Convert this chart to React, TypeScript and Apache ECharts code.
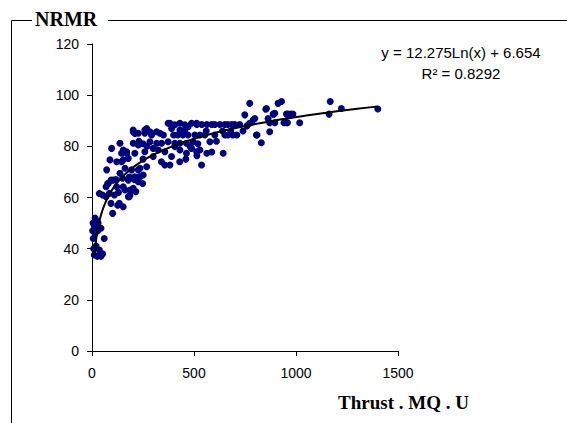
import React, { useEffect, useRef } from "react";
import * as echarts from "echarts";

// Thrust (MQ.U) values of the scatter points
const thrustValues: number[] = [
  3, 6, 8, 11, 11, 15, 20, 20, 26, 28, 36, 44, 44, 52, 60, 30, 15, 5,
  36, 52, 69, 85, 93, 126, 101, 134, 69, 77, 93, 153, 178, 186, 162, 202, 186, 153, 121, 80, 104, 178,
  210, 227, 235, 251, 137, 72, 162, 194, 227, 235, 268, 121, 145, 88, 153, 178, 170, 210, 170, 259,
  145, 153, 96, 227, 202, 137, 117, 150, 183, 207, 231, 248, 199, 215, 110, 130, 183,
  202, 259, 292, 333, 202, 227, 259, 292, 317, 210, 268, 284, 373, 382, 406, 431, 455, 471, 488, 513,
  390, 431, 455, 284, 317, 341, 373, 406, 431, 463, 496, 300, 325, 357, 406, 431, 463, 488, 513, 357,
  382, 250, 270, 230, 350, 400, 420, 445, 470, 300, 340, 430, 460, 480, 390, 250,
  514, 538, 563, 587, 602, 627, 651, 666, 685, 700, 724, 504, 529, 553, 602, 651, 666, 690, 710, 519,
  529, 514, 563, 587, 537, 643, 578, 610, 640, 560, 680,
  749, 773, 790, 798, 773, 806, 809, 830, 852, 855, 863, 871, 871, 888, 891, 896, 896, 912, 929, 941,
  953, 953, 958, 961, 975, 985, 1018, 1162, 1168, 1222, 1401, 740, 760,
];

// NRMR values of the scatter points (same order)
const nrmrValues: number[] = [
  47, 44, 40, 49, 37.5, 46, 51, 41, 37, 47, 39.5, 48, 37, 38, 44, 50, 52, 50,
  61.6, 61, 60.3, 61.6, 57.7, 57, 53.8, 57.7, 64.2, 65.5, 66.8, 56.4, 60.3, 61, 62.9, 63.6, 62.9, 64.2, 64.2, 65.5, 66.8, 66.8,
  68.1, 66.2, 68.1, 68.8, 69.5, 70.8, 71.4, 70.8, 70.8, 71.4, 72, 74, 74, 74.7, 74.7, 75.3, 77.3, 77.3, 77.9, 77.9,
  77.3, 78.6, 79.2, 80.5, 81.2, 81.2, 67, 67.5, 68, 67, 68, 65.5, 63, 62.3, 61, 62, 60.3,
  86.4, 86.4, 85.1, 85.1, 85.7, 85.1, 85.1, 84.4, 85.7, 85, 87, 85.7, 89, 89, 88.4, 89, 88.4, 87.7, 89, 89,
  87, 86.4, 86.4, 81.8, 81.2, 81.2, 81.8, 81.2, 81.2, 81.2, 81.8, 79.2, 78.6, 77.9, 79.9, 78.6, 77.3, 79.2, 77.9, 72.7,
  72.7, 81, 80, 82, 84.4, 84.4, 84.4, 84.4, 84.4, 76, 74, 74, 75, 80, 76, 75,
  88.5, 88.5, 88.5, 88.5, 88.5, 88.5, 88.5, 88.5, 88.5, 88.5, 88.5, 84.4, 84.4, 84.4, 84.4, 84.4, 84.4, 84.4, 84.4, 81,
  78.6, 76.3, 77.3, 77.8, 72.7, 77.3, 81.8, 82, 86, 86, 86,
  92.3, 96.8, 90.3, 90.9, 89, 84.4, 84.4, 81.4, 94.5, 94.8, 90.9, 89.2, 85.7, 92.6, 92.6, 89.2, 92.9, 96.8, 97.5, 89.2,
  92.6, 89.2, 89.2, 92.6, 92.6, 92.6, 89.2, 92.6, 97.5, 94.8, 94.6, 86, 88,
];

// Trend line as printed on the chart: y = 12.275 Ln(x) + 6.654
const trendSlope = 12.275;
const trendIntercept = 6.654;
const trendX: number[] = [
  12, 14, 16, 18, 20, 23, 26, 30, 35, 40, 50, 60, 70, 85, 100, 120, 150, 180, 220, 260, 300, 350,
  400, 470, 550, 650, 750, 850, 950, 1050, 1150, 1250, 1350, 1400,
];

const xTicks = { min: 0, max: 1500, interval: 500 };
const yTicks = { min: 0, max: 120, interval: 20 };

const equationText = "y = 12.275Ln(x) + 6.654";
const r2Text = "R² = 0.8292";
const yTitle = "NRMR";
const xTitle = "Thrust . MQ . U";

export default function App() {
  const ref = useRef<HTMLDivElement>(null);

  useEffect(() => {
    if (!ref.current) return;
    const chart = echarts.init(ref.current, undefined, { renderer: "svg" });
    const points = thrustValues.map((x, i) => [x, nrmrValues[i]]);
    const trend = trendX.map((x) => [x, trendSlope * Math.log(x) + trendIntercept]);
    const sans = "'Liberation Sans', Arial, sans-serif";
    const serif = "'Liberation Serif', 'Times New Roman', serif";

    chart.setOption({
      animation: false,
      backgroundColor: "#ffffff",
      grid: { left: 92, top: 44, width: 306, height: 307, containLabel: false },
      xAxis: {
        type: "value",
        min: xTicks.min,
        max: xTicks.max,
        interval: xTicks.interval,
        axisLine: { show: true, onZero: false, lineStyle: { color: "#000", width: 1 } },
        axisTick: { show: true, inside: false, length: 5, lineStyle: { color: "#000" } },
        splitLine: { show: false },
        axisLabel: {
          color: "#000",
          fontSize: 14,
          fontFamily: sans,
          margin: 15,
          formatter: (v: number) => String(v),
        },
      },
      yAxis: {
        type: "value",
        min: yTicks.min,
        max: yTicks.max,
        interval: yTicks.interval,
        axisLine: { show: true, onZero: false, lineStyle: { color: "#000", width: 1 } },
        axisTick: { show: true, inside: false, length: 5, lineStyle: { color: "#000" } },
        splitLine: { show: false },
        axisLabel: {
          color: "#000",
          fontSize: 14,
          fontFamily: sans,
          margin: 13,
          formatter: (v: number) => String(v),
        },
      },
      series: [
        {
          type: "scatter",
          data: points,
          symbol: "circle",
          symbolSize: 7,
          itemStyle: { color: "#000080", opacity: 1 },
          z: 2,
        },
        {
          type: "line",
          data: trend,
          showSymbol: false,
          smooth: true,
          lineStyle: { color: "#000", width: 2 },
          z: 3,
        },
      ],
      graphic: [
        { type: "line", shape: { x1: 11.5, y1: 20.5, x2: 11.5, y2: 423 }, style: { stroke: "#000", lineWidth: 1 } },
        { type: "line", shape: { x1: 11.5, y1: 20.5, x2: 32, y2: 20.5 }, style: { stroke: "#000", lineWidth: 1 } },
        { type: "line", shape: { x1: 108, y1: 20.5, x2: 567, y2: 20.5 }, style: { stroke: "#000", lineWidth: 1 } },
        {
          type: "text",
          left: 35,
          top: 9,
          style: { text: yTitle, fill: "#000", font: `bold 20px ${serif}` },
        },
        {
          type: "text",
          left: 338,
          top: 393,
          style: { text: xTitle, fill: "#000", font: `bold 19px ${serif}` },
        },
        {
          type: "text",
          x: 461,
          y: 52,
          style: { text: equationText, fill: "#000", font: `15px ${sans}`, align: "center", verticalAlign: "middle" },
        },
        {
          type: "text",
          x: 461,
          y: 73,
          style: { text: r2Text, fill: "#000", font: `15px ${sans}`, align: "center", verticalAlign: "middle" },
        },
      ],
    });
    return () => chart.dispose();
  }, []);

  return (
    <div
      ref={ref}
      style={{ position: "fixed", left: 0, top: 0, width: 567, height: 423, background: "#fff" }}
    />
  );
}
